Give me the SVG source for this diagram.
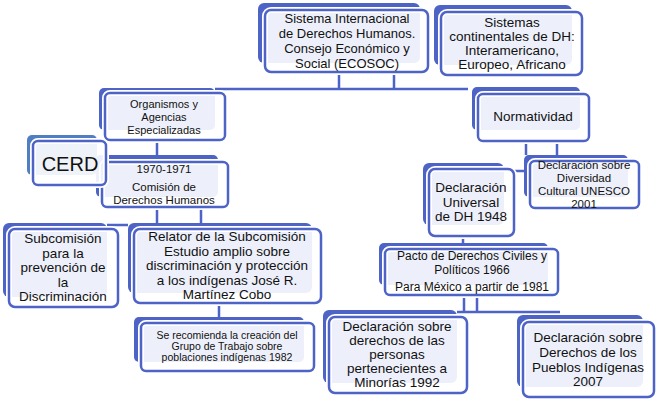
<svg xmlns="http://www.w3.org/2000/svg" width="657" height="401" viewBox="0 0 657 401">
<style>
.b{fill:#4e63c6}
.bc{fill:#4f7fc1}
.h{fill:none;stroke:#ffffff;stroke-width:6}
.f{fill:#ffffff;fill-opacity:0.9;stroke:#4e63c6;stroke-width:2.5}
.c{stroke:#4e63c6;stroke-width:2.5;fill:none}
text{font-family:"Liberation Sans",Arial,sans-serif;fill:#111111;text-anchor:middle}
.t13{font-size:13px}
.t135{font-size:13.5px}
.t11{font-size:11px}
.t115{font-size:11.5px}
.t12{font-size:12px}
.t105{font-size:10.5px}
</style>
<rect width="657" height="401" fill="#ffffff"/>
<g id="connectors">
<path class="c" d="M339 72V89M394 72V89M215 89H468"/>
<path class="c" d="M157 140V156M157 207V223M201 207V223M107 225H128M219 303V317"/>
<path class="c" d="M526 141V155M557 141V155M510 171H530M463 236V243"/>
<path class="c" d="M464 295V312M477 295V312M457 312H560"/>
</g>
<g id="sistema">
<rect class="b" x="258" y="3" width="162" height="60" rx="6"/>
<rect class="h" x="265" y="10" width="163" height="62" rx="6"/>
<rect class="f" x="265" y="10" width="163" height="62" rx="6"/>
<text class="t13" x="347" y="22.5">Sistema Internacional</text>
<text class="t13" x="347" y="37.5">de Derechos Humanos.</text>
<text class="t13" x="347" y="52.5">Consejo Económico y</text>
<text class="t13" x="347" y="67.5">Social (ECOSOC)</text>
</g>
<g id="continentales">
<rect class="b" x="434" y="5" width="138" height="60" rx="6"/>
<rect class="h" x="441" y="12" width="141" height="63" rx="6"/>
<rect class="f" x="441" y="12" width="141" height="63" rx="6"/>
<text class="t135" x="512" y="27">Sistemas</text>
<text class="t135" x="512" y="41">continentales de DH:</text>
<text class="t135" x="512" y="55">Interamericano,</text>
<text class="t135" x="512" y="69">Europeo, Africano</text>
</g>
<g id="organismos">
<rect class="b" x="99" y="88" width="116" height="42" rx="5"/>
<rect class="h" x="105" y="93" width="120" height="47" rx="5"/>
<rect class="f" x="105" y="93" width="120" height="47" rx="5"/>
<text class="t11" x="164" y="108">Organismos y</text>
<text class="t11" x="164" y="121">Agencias</text>
<text class="t11" x="164" y="134">Especializadas</text>
</g>
<g id="normatividad">
<rect class="b" x="472" y="87" width="108" height="43" rx="5"/>
<rect class="h" x="478" y="94" width="111" height="47" rx="5"/>
<rect class="f" x="478" y="94" width="111" height="47" rx="5"/>
<text class="t135" x="533" y="121">Normatividad</text>
</g>
<g id="comision">
<rect class="b" x="96" y="155" width="122" height="42" rx="5"/>
<rect class="h" x="102" y="162" width="126" height="45" rx="5"/>
<rect class="f" x="102" y="162" width="126" height="45" rx="5"/>
<text class="t115" x="164" y="173">1970-1971</text>
<text class="t115" x="164" y="191">Comisión de</text>
<text class="t115" x="164" y="204">Derechos Humanos</text>
</g>
<g id="cerd">
<rect class="bc" x="27" y="135" width="70" height="40" rx="5"/>
<rect class="h" x="33" y="141" width="73" height="44" rx="5"/>
<rect class="f" x="33" y="141" width="73" height="44" rx="5"/>
<text x="70" y="170.5" style="font-size:20px">CERD</text>
</g>
<g id="diversidad">
<rect class="b" x="524" y="155" width="104" height="42" rx="5"/>
<rect class="h" x="530" y="161" width="109" height="47" rx="5"/>
<rect class="f" x="530" y="161" width="109" height="47" rx="5"/>
<text class="t115" x="584" y="169">Declaración sobre</text>
<text class="t115" x="584" y="182">Diversidad</text>
<text class="t115" x="584" y="194.5">Cultural UNESCO</text>
<text class="t115" x="584" y="207.5">2001</text>
</g>
<g id="universal">
<rect class="b" x="423" y="163" width="81" height="62" rx="6"/>
<rect class="h" x="429" y="169" width="85" height="67" rx="6"/>
<rect class="f" x="429" y="169" width="85" height="67" rx="6"/>
<text class="t135" x="471" y="192">Declaración</text>
<text class="t135" x="471" y="207">Universal</text>
<text class="t135" x="471" y="221">de DH 1948</text>
</g>
<g id="subcomision">
<rect class="b" x="3" y="223" width="104" height="74" rx="6"/>
<rect class="h" x="9" y="229" width="109" height="78" rx="6"/>
<rect class="f" x="9" y="229" width="109" height="78" rx="6"/>
<text class="t135" x="63" y="243">Subcomisión</text>
<text class="t135" x="63" y="257.5">para la</text>
<text class="t135" x="63" y="272">prevención de</text>
<text class="t135" x="63" y="286.5">la</text>
<text class="t135" x="63" y="301">Discriminación</text>
</g>
<g id="relator">
<rect class="b" x="128" y="223" width="184" height="70" rx="6"/>
<rect class="h" x="134" y="229" width="187" height="74" rx="6"/>
<rect class="f" x="134" y="229" width="187" height="74" rx="6"/>
<text class="t135" x="227" y="241">Relator de la Subcomisión</text>
<text class="t135" x="227" y="255.5">Estudio amplio sobre</text>
<text class="t135" x="227" y="270">discriminación y protección</text>
<text class="t135" x="227" y="284.5">a los indígenas José R.</text>
<text class="t135" x="227" y="299">Martínez Cobo</text>
</g>
<g id="pacto">
<rect class="b" x="379" y="243" width="169" height="42" rx="5"/>
<rect class="h" x="385" y="249" width="173" height="46" rx="5"/>
<rect class="f" x="385" y="249" width="173" height="46" rx="5"/>
<text class="t12" x="472" y="260">Pacto de Derechos Civiles y</text>
<text class="t12" x="472" y="274">Políticos 1966</text>
<text class="t12" x="472" y="291">Para México a partir de 1981</text>
</g>
<g id="recomienda">
<rect class="b" x="134" y="317" width="170" height="45" rx="5"/>
<rect class="h" x="141" y="323" width="173" height="48" rx="5"/>
<rect class="f" x="141" y="323" width="173" height="48" rx="5"/>
<text class="t105" x="227" y="339">Se recomienda la creación del</text>
<text class="t105" x="227" y="350">Grupo de Trabajo sobre</text>
<text class="t105" x="227" y="361">poblaciones indígenas 1982</text>
</g>
<g id="minorias">
<rect class="b" x="323" y="310" width="134" height="73" rx="6"/>
<rect class="h" x="329" y="317" width="138" height="76" rx="6"/>
<rect class="f" x="329" y="317" width="138" height="76" rx="6"/>
<text class="t135" x="397" y="331">Declaración sobre</text>
<text class="t135" x="397" y="345">derechos de las</text>
<text class="t135" x="397" y="359">personas</text>
<text class="t135" x="397" y="373">pertenecientes a</text>
<text class="t135" x="397" y="387">Minorías 1992</text>
</g>
<g id="pueblos">
<rect class="b" x="517" y="315" width="126" height="72" rx="6"/>
<rect class="h" x="523" y="322" width="131" height="75" rx="6"/>
<rect class="f" x="523" y="322" width="131" height="75" rx="6"/>
<text class="t135" x="588" y="342">Declaración sobre</text>
<text class="t135" x="588" y="357">Derechos de los</text>
<text class="t135" x="588" y="371.5">Pueblos Indígenas</text>
<text class="t135" x="588" y="386">2007</text>
</g>
</svg>
